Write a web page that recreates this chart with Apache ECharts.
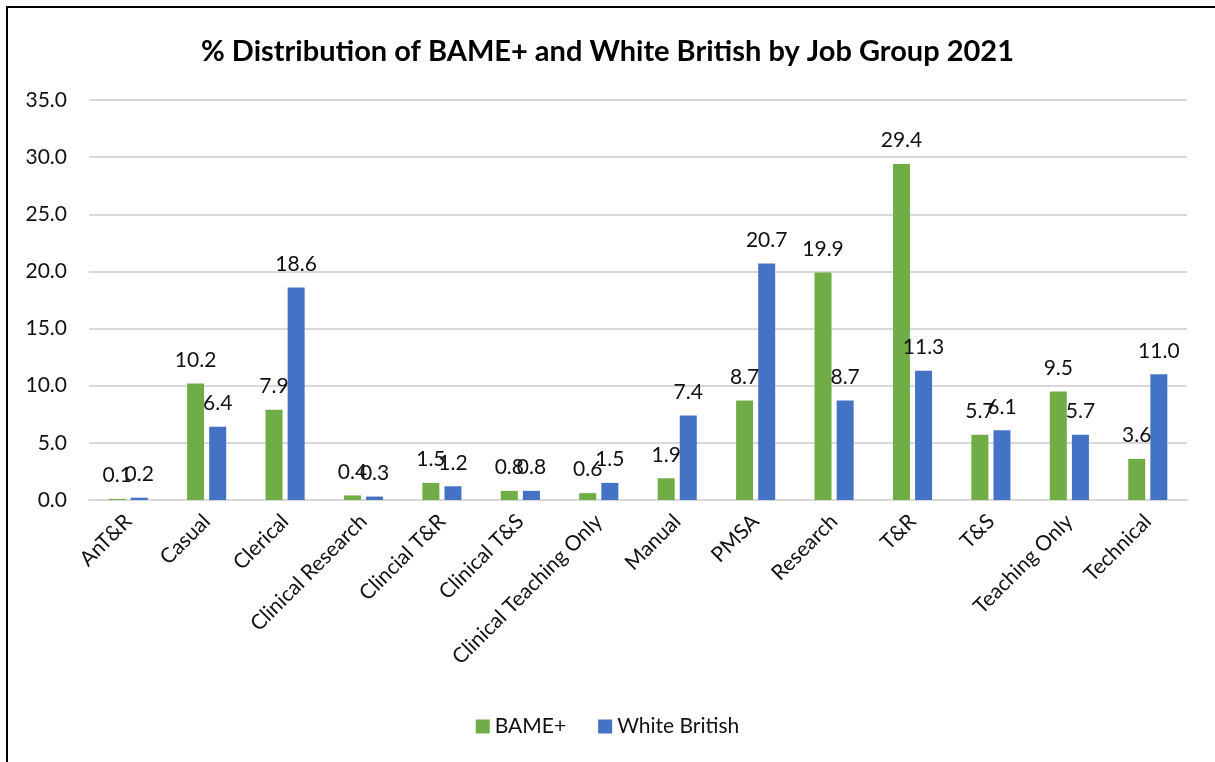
<!DOCTYPE html>
<html>
<head>
<meta charset="utf-8">
<script src="https://cdn.jsdelivr.net/npm/echarts@6/dist/echarts.min.js"></script>
<style>
  html, body { margin: 0; padding: 0; background: #fff; }
  #frame {
    position: absolute; left: 6px; top: 6px;
    width: 1240px; height: 800px;
    border: 2px solid #000; box-sizing: border-box;
  }
  #chart { position: absolute; left: 0; top: 0; width: 1215px; height: 762px; }
</style>
</head>
<body>
<div id="frame"></div>
<div id="chart"></div>
<script>
/* 数据 */
const categories = ['AnT&R', 'Casual', 'Clerical', 'Clinical Research', 'Clincial T&R', 'Clinical T&S',
  'Clinical Teaching Only', 'Manual', 'PMSA', 'Research', 'T&R', 'T&S', 'Teaching Only', 'Technical'];
const bame = [0.1, 10.2, 7.9, 0.4, 1.5, 0.8, 0.6, 1.9, 8.7, 19.9, 29.4, 5.7, 9.5, 3.6];
const whiteBritish = [0.2, 6.4, 18.6, 0.3, 1.2, 0.8, 1.5, 7.4, 20.7, 8.7, 11.3, 6.1, 5.7, 11.0];

const font = 'Lato, "Open Sans", sans-serif';

const myChart = echarts.init(document.getElementById('chart'));

const barLabel = {
  show: true,
  position: 'top',
  distance: 13,
  color: '#111',
  fontSize: 21,
  fontFamily: font,
  formatter: p => p.value.toFixed(1)
};

const option = {
  animation: false,
  title: {
    text: '% Distribution of BAME+ and White British by Job Group 2021',
    left: 'center',
    top: 32,
    textStyle: { fontSize: 29, fontWeight: 'bold', color: '#000', fontFamily: font }
  },
  legend: {
    bottom: 20,
    left: 'center',
    itemWidth: 14,
    itemHeight: 14,
    itemGap: 32,
    icon: 'rect',
    textStyle: { fontSize: 21, color: '#111', fontFamily: font }
  },
  grid: {
    left: 89,
    right: 28,
    top: 100,
    bottom: 262
  },
  xAxis: {
    type: 'category',
    data: categories,
    axisTick: { show: false },
    axisLine: { lineStyle: { color: '#d9d9d9', width: 2 } },
    axisLabel: {
      rotate: 45,
      interval: 0,
      margin: 18,
      color: '#111',
      fontSize: 21,
      fontFamily: font
    }
  },
  yAxis: {
    type: 'value',
    min: 0,
    max: 35,
    interval: 5,
    axisLine: { show: false },
    axisTick: { show: false },
    splitLine: { lineStyle: { color: '#d9d9d9', width: 2 } },
    axisLabel: {
      margin: 22,
      color: '#111',
      fontSize: 21,
      fontFamily: font,
      formatter: v => v.toFixed(1)
    }
  },
  series: [
    {
      name: 'BAME+',
      type: 'bar',
      data: bame,
      barWidth: 17,
      barGap: '30%',
      itemStyle: { color: '#70ad47' },
      label: barLabel
    },
    {
      name: 'White British',
      type: 'bar',
      data: whiteBritish,
      barWidth: 17,
      itemStyle: { color: '#4472c4' },
      label: barLabel
    }
  ]
};

myChart.setOption(option);
</script>
</body>
</html>
